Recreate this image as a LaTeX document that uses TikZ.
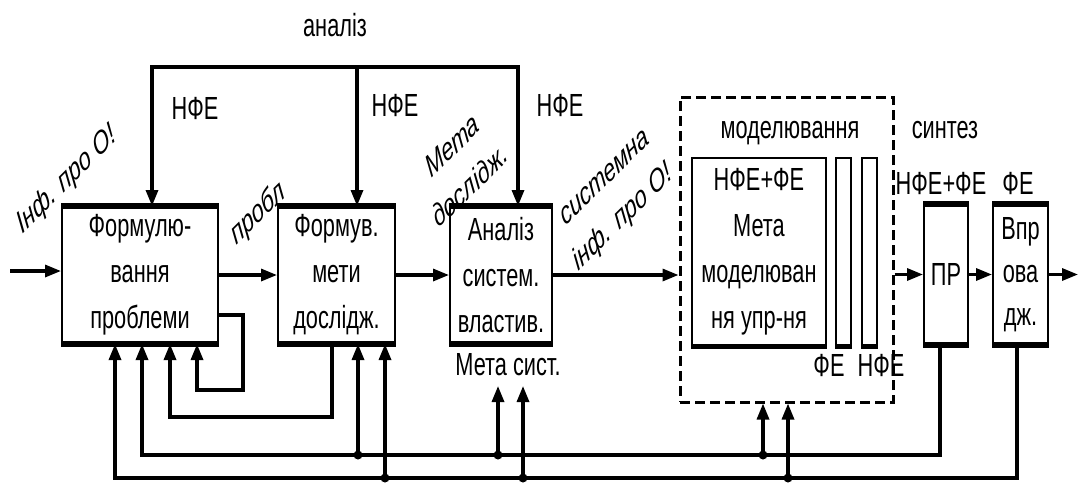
\documentclass[tikz,border=0pt]{standalone}
\usepackage{fontspec}
\setmainfont[FakeStretch=0.68]{Liberation Sans}
\newfontfamily\rotfont{Liberation Sans}
\usetikzlibrary{arrows.meta,calc}
\begin{document}
\begin{tikzpicture}[x=1pt,y=-1pt,
  every node/.style={font=\fontsize{32}{46}\selectfont, inner sep=0pt},
  box/.style={draw, line width=2pt, align=center},
  arr/.style={line width=3.2pt, -{Triangle[length=16pt,width=12pt]}},
  ln/.style={line width=3.2pt},
  rlab/.style={font=\fontsize{32}{48}\selectfont\rotfont\itshape, align=center, xscale=0.68, rotate=34},
  dot/.style={circle, fill, minimum size=9pt, inner sep=0pt},
  thickedge/.style={line width=6pt}]
\useasboundingbox (0,0) rectangle (1078,482);

% boxes
\node[box, minimum width=156pt, minimum height=136pt] (b1) at (140,275) {Формулю-\\вання\\проблеми};
\node[box, minimum width=117pt, minimum height=136pt] (b2) at (336.5,275) {Формув.\\мети\\дослідж.};
\node[box, minimum width=102pt, minimum height=136pt] (b3) at (501,275) {Аналіз\\систем.\\властив.};
\node (ms) at (508,365) {Мета сист.};
\node[draw, line width=3pt, dash pattern=on 10pt off 5pt, minimum width=213pt, minimum height=305pt] (db) at (786.5,249.5) {};
\node (mod) at (790,133) {моделювання};
\node[box, minimum width=134pt, minimum height=187pt] (mb) at (759,251.5) {НФЕ+ФЕ\\Мета\\моделюван\\ня упр-ня};
\node[box, minimum width=15pt, minimum height=187pt] (bar1) at (843.5,251.5) {};
\node[box, minimum width=15pt, minimum height=187pt] (bar2) at (869.5,251.5) {};
\node (fe1) at (829,365) {ФЕ};
\node (nfe4) at (881,365) {НФЕ};
\node (syn) at (945,130) {синтез};
\node (nfefe) at (941,183) {НФЕ+ФЕ};
\node (fe2) at (1018,183) {ФЕ};
\node[box, minimum width=44pt, minimum height=139pt] (pr) at (946,274.5) {ПР};
\node[box, minimum width=55pt, minimum height=139pt, font=\fontsize{32}{43}\selectfont] (vp) at (1020.5,274.5) {Впр\\ова\\дж.};

\foreach \n in {b1,b2,b3,pr,vp} {
  \draw[thickedge] (\n.north west) -- (\n.north east);
  \draw[thickedge] (\n.south west) -- (\n.south east);
}
\foreach \n in {mb,bar1,bar2} {
  \draw[line width=5pt] (\n.south west) -- (\n.south east);
}

% top labels
\node (an) at (335,25) {аналіз};
\node (n1) at (195,108) {НФЕ};
\node (n2) at (395,105) {НФЕ};
\node (n3) at (560,105) {НФЕ};

% rotated labels
\node[rlab] (inf) at (67,180) {Інф. про О!};
\node[rlab] (pro) at (258,214) {пробл};
\node[rlab] (md) at (461,165) {Мета\\дослідж.};
\node[rlab] (si) at (615,200) {системна\\інф. про О!};

% top feedback
\coordinate (t1) at (152,67);
\coordinate (t2) at (357,67);
\coordinate (t3) at (518,67);
\draw[arr] (t2) -- (t1) -- (t1 |- b1.north);
\draw[arr] (t2) -- (t3) -- (t3 |- b3.north);
\draw[arr] (t2) -- (t2 |- b2.north);

% main flow
\coordinate (in) at (10,271);
\coordinate (out) at (1078,274.5);
\draw[arr] (in) -- (in -| b1.west);
\draw[arr] (b1.east) -- (b2.west);
\draw[arr] (b2.east) -- (b3.west);
\draw[arr] (b3.east) -- (b3.east -| db.west);
\draw[arr] (pr.west -| db.east) -- (pr.west);
\draw[arr] (pr.east) -- (vp.west);
\draw[arr] (vp.east) -- (out);

% self loop of box 1
\coordinate (s1) at (218,315);
\coordinate (sl) at (243,390);
\coordinate (a4) at (197,390);
\draw[arr] (s1) -| (sl) -- (a4) -- (a4 |- b1.south);

% box2 -> box1
\coordinate (f2) at (332,417);
\coordinate (a3) at (170,417);
\draw[arr] (f2 |- b2.south) -- (f2) -- (a3) -- (a3 |- b1.south);

% bus 455 from PR
\coordinate (p455) at (940,455);
\coordinate (a2) at (142,455);
\coordinate (msb) at (0,386);
\draw[arr] (p455 |- pr.south) -- (p455) -- (a2) -- (a2 |- b1.south);
\coordinate (j1) at (358,455);
\coordinate (j2) at (498,455);
\coordinate (j3) at (763,455);
\draw[arr] (j1) -- (j1 |- b2.south);
\draw[arr] (j2) -- (j2 |- msb);
\draw[arr] (j3) -- (j3 |- db.south);

% bus 478 from Vpr
\coordinate (q478) at (1017,478);
\coordinate (a1) at (115,478);
\draw[arr] (q478 |- vp.south) -- (q478) -- (a1) -- (a1 |- b1.south);
\coordinate (k1) at (385,478);
\coordinate (k2) at (523,478);
\coordinate (k3) at (788,478);
\draw[arr] (k1) -- (k1 |- b2.south);
\draw[arr] (k2) -- (k2 |- msb);
\draw[arr] (k3) -- (k3 |- db.south);

\foreach \p in {j1,j2,j3,k1,k2,k3} \node[dot] at (\p) {};
\end{tikzpicture}
\end{document}
